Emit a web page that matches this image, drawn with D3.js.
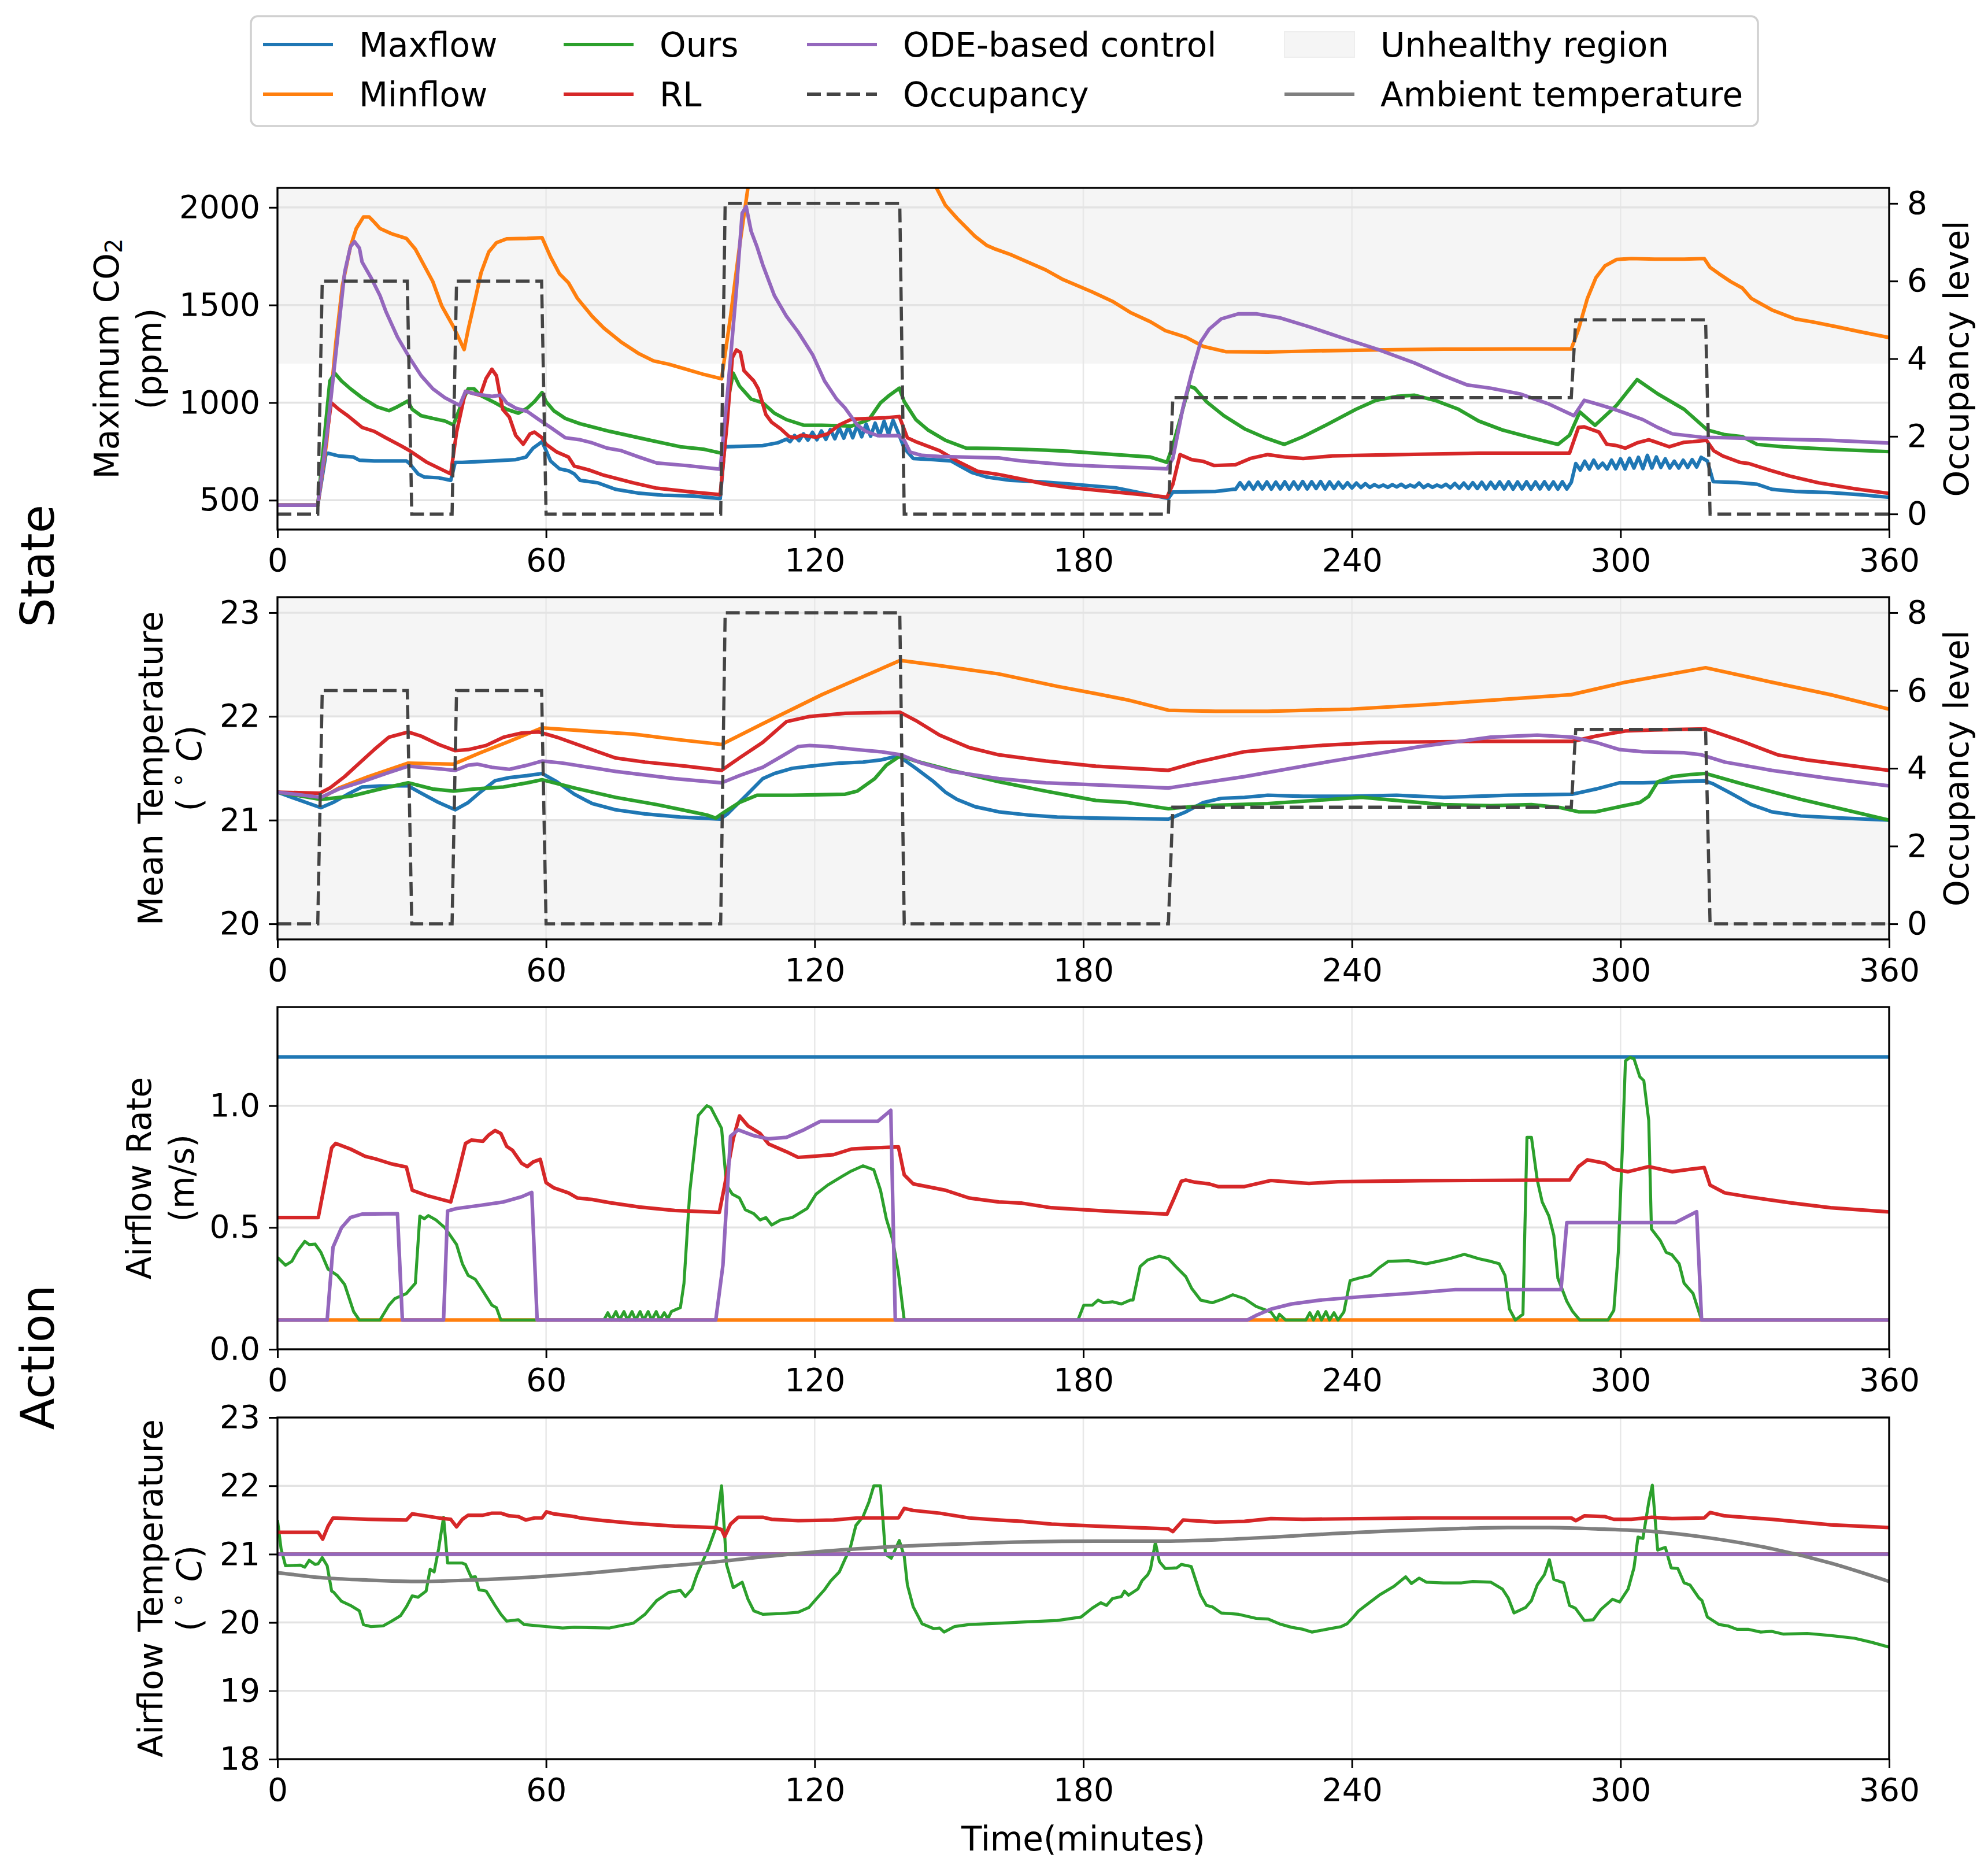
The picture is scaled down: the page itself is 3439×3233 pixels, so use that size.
<!DOCTYPE html>
<html>
<head>
<meta charset="utf-8">
<script src="https://cdn.jsdelivr.net/npm/d3@7"></script>
<style>
  body { margin: 0; background: #fff; }
  svg text { font-family: "DejaVu Sans", sans-serif; }
</style>
</head>
<body>
<script>
// ---- data (time in minutes, value) ----
const timeTicks = [0, 60, 120, 180, 240, 300, 360];

const occupancy = [[0,0],[9,0],[10,6],[29,6],[30,0],[39,0],[40,6],[59,6],[60,0],[99,0],[100,8],[139,8],
  [140,0],[199,0],[200,3],[289,3],[290,5],[319,5],[320,0],[360,0]];

// panel 1: maximum CO2 (ppm)
const co2Maxflow = [[0,475],[9,475],[10.8,734],[11.3,741],[13.7,727],[17,721],[18.3,705],[21.6,701],[28.8,701],[29.5,688],
  [31.4,635],[32.8,619],[36,615],[38.7,602],[39.7,694],[41.3,694],[47.9,701],[53.2,708],[55.5,721],[57.1,767],[59.1,800],
  [60,754],[61,701],[63,661],[65,651],[66.3,635],[67.6,602],[71.6,589],[75.5,556],[80.8,536],[86.1,526],[92.6,522],[98.9,509],
  [99.9,774],[103.2,776],[108.4,780],[111.7,794],[113.7,813],
  [114.5,800],[115.5,832],[116.5,805],[117.5,840],[118.5,808],[119.5,848],[120.5,810],[121.5,855],[122.5,812],[123.5,862],
  [124.5,815],[125.5,870],[126.5,818],[127.5,878],[128.5,820],[129.5,885],[130.5,825],[131.5,890],[132.5,828],[133.5,895],
  [134.5,832],[135.5,905],[136.5,838],[137.5,910],[138.5,855],
  [140,767],[142,714],[146.6,708],[150.5,701],[152.5,675],[155.1,642],[158.4,619],[163.7,602],[170.3,595],[176.8,584],
  [182.8,572],[187.2,564],[199,509],[200,542],[209.5,545],[213.5,556],
  [214,556],[215,590],[216,558],[217,592],[218,557],[219,593],[220,558],[221,594],[222,557],[223,593],[224,558],[225,595],
  [226,557],[227,594],[228,558],[229,596],[230,558],[231,595],[232,560],[233,596],[234,558],[235,594],[236,560],[237,592],
  [238,562],[239,590],[240,563],[241,588],[242,565],[243,585],[244,566],[245,580],[246,568],[247,578],[248,566],[249,580],
  [250,568],[251,582],[252,566],[253,578],[254,568],[255,588],[256,565],[257,580],[258,566],[259,578],[260,568],[261,582],
  [262,564],[263,586],[264,562],[265,588],[266,560],[267,590],[268,560],[269,592],[270,558],[271,592],[272,560],[273,594],
  [274,558],[275,595],[276,557],[277,594],[278,558],[279,595],[280,557],[281,594],[282,558],[283,595],[284,558],[285,594],
  [286,557],[287,595],[288,558],[289,592],
  [290,688],[291,655],[292,700],[293,660],[294,705],[295,665],[296,690],[297,660],[298,705],[299,662],[300,712],[301,660],
  [302,715],[303,665],[304,720],[305,662],[306,730],[307,665],[308,722],[309,668],[310,712],[311,665],[312,700],[313,665],
  [314,705],[315,668],[316,708],[317,670],[318,720],[319.4,701],
  [320.7,595],[326,591],[330.5,582],[333.8,556],[339,545],[346.9,539],[353.4,529],[360,515]];

const co2Minflow = [[0,475],[9,475],[11,800],[13,1300],[14.5,1600],[16.3,1799],[17.6,1892],[19.2,1951],[20.5,1951],[21.6,1925],
  [22.9,1892],[25.5,1865],[28.8,1841],[30.8,1786],[34.7,1620],[36.7,1495],[39.3,1389],[41.7,1272],[42.6,1375],[44.2,1534],
  [45.5,1667],[47.2,1772],[48.9,1819],[51.2,1839],[55.8,1841],[59.1,1845],[61,1746],[63,1660],[65,1614],[67,1534],[70.3,1442],
  [72.9,1382],[76.8,1310],[80.8,1250],[84,1214],[87.4,1197],[91.3,1171],[95.3,1144],[99.2,1122],[101.2,1442],[103.2,1799],
  [105.1,2103],[107,2250],[110,2370],[115,2450],[125,2500],[139.5,2520],[141,2450],[143,2320],[145,2200],[147.2,2100],
  [149.2,2011],[151.8,1944],[155.8,1852],[158.4,1806],[160.4,1786],[163.7,1759],[167.6,1720],[171.6,1680],[175.5,1630],
  [182,1567],[186.5,1519],[190.5,1462],[195,1414],[198.3,1369],[202.9,1335],[206.8,1288],[211.8,1261],[221.2,1259],
  [231.7,1265],[244.8,1270],[260.5,1274],[276.2,1275],[289,1275],[290.6,1375],[292.6,1534],[294.5,1640],[296.5,1700],
  [299.1,1733],[302.4,1738],[307.6,1735],[314.2,1735],[318.7,1738],[320,1693],[322,1660],[324.6,1620],[327.2,1587],
  [329.2,1534],[333.8,1475],[339,1429],[343,1413],[348.2,1389],[353.5,1363],[360,1333]];

const co2Ours = [[0,475],[9,475],[11.7,1111],[12.8,1151],[14.3,1111],[16.3,1071],[18.9,1025],[22.2,979],[24.9,959],[26.8,979],
  [29.1,1008],[30.1,966],[32.1,933],[34.7,919],[37.4,906],[39.3,886],[41.3,1005],[42.6,1071],[43.9,1071],[45.3,1038],
  [48.6,999],[51.2,966],[53.8,946],[55.8,972],[57.4,1005],[59.1,1052],[60,1005],[61.7,959],[64.3,919],[67.6,892],[74.2,853],
  [82.1,813],[90,774],[95.3,761],[99.2,741],[100.5,1000],[101.8,1151],[103.2,1085],[105.8,1018],[108.4,999],[111,946],
  [113.7,913],[117.6,884],[121.6,884],[128.2,880],[132.1,913],[134.7,999],[136.7,1038],[138.9,1074],[140,1005],[142.6,913],
  [145.3,860],[149.2,807],[153.8,767],[161.1,765],[171.6,757],[176.7,751],[187.2,734],[195,721],[198.7,694],[200,780],
  [201.6,913],[203.6,1085],[204.9,1074],[207.5,1005],[211.4,933],[216,866],[220.6,820],[224.9,786],[229.1,826],[234.3,886],
  [240.9,966],[245.4,1012],[250,1032],[254,1038],[258.5,1012],[263.8,966],[268.3,906],[273.6,860],[280.1,820],[286,786],
  [288.6,833],[290.9,952],[294.3,884],[299.1,986],[303.7,1118],[308.3,1045],[314.2,966],[319.4,860],[323.3,836],[327.2,826],
  [330.5,786],[336.4,774],[346.9,761],[360,749]];

const co2RL = [[0,475],[9,475],[12,1000],[13.7,966],[15.7,933],[18.9,873],[21.6,853],[24.2,820],[27.5,780],[29.5,754],
  [33.4,694],[38.7,635],[40,848],[42,1058],[45.3,1038],[46.6,1124],[47.9,1171],[48.9,1138],[50.3,966],[51.8,926],[53.2,833],
  [54.9,787],[56.4,840],[57.4,849],[59.1,820],[60,787],[62.4,747],[65,721],[66.3,675],[69.6,655],[72.9,628],[79.5,589],
  [84.7,562],[92.6,542],[98.9,529],[100.5,913],[101.6,1230],[102.5,1270],[103.4,1257],[104.2,1164],[106.4,1111],[107.4,1071],
  [109.1,939],[110.4,899],[112.4,866],[114.3,826],[115.7,820],[117,833],[120.3,823],[122.9,840],[125.5,886],[128.2,915],
  [132.1,919],[136,923],[138.9,929],[140.7,820],[142.6,800],[147.9,754],[151.8,701],[156.4,648],[161.1,632],[166.3,608],
  [171.6,582],[176.7,566],[187.2,542],[198.7,516],[200,582],[201.6,734],[204.2,708],[206.8,699],[209.2,678],[214,682],
  [217.3,714],[221.2,734],[225.2,721],[229.1,714],[235.6,727],[248.7,733],[268.3,741],[288.6,741],[290.6,873],[291.9,876],
  [295.2,849],[296.9,787],[299.1,780],[301.1,767],[303.7,794],[306.3,810],[307.6,800],[310.9,774],[314.2,797],[316.2,800],
  [319.2,807],[320.8,754],[322.8,727],[326.7,694],[328.7,688],[333.2,655],[337.8,624],[344.3,589],[352.2,559],[360,535]];

const co2ODE = [[0,475],[9,475],[11.1,847],[13,1243],[15,1667],[16.3,1799],[17.2,1825],[18.3,1792],[18.9,1720],[20.9,1640],
  [22.9,1548],[24.2,1468],[26.8,1336],[29.5,1230],[32.1,1138],[34.7,1071],[37.4,1025],[40.7,986],[42,1058],[44,1045],
  [47.9,1032],[49.9,1038],[51.2,999],[53.2,972],[55.8,955],[58.4,913],[61,873],[64.3,820],[67.6,810],[70.3,794],[73.6,767],
  [76.8,754],[80.8,721],[84.7,691],[91.3,678],[98.9,659],[100.5,1045],[102.5,1574],[103.8,1971],[104.7,2004],[105.8,1878],
  [107.1,1799],[108.4,1706],[111,1548],[113.7,1442],[116.3,1362],[119.6,1243],[122.2,1111],[124.9,1018],[126.8,972],
  [129.5,886],[131.4,853],[134.1,831],[138.7,831],[140,807],[141.3,747],[143.9,730],[147.9,724],[161.1,717],[166.3,701],
  [171.6,691],[176.7,681],[182.8,675],[198.7,661],[200,714],[202.3,979],[204.2,1151],[206.2,1310],[208.1,1376],[210.8,1429],
  [214.7,1455],[218.6,1455],[223.8,1435],[230.4,1389],[238.2,1329],[246.1,1270],[254,1203],[260.5,1138],[265.7,1091],
  [271,1074],[277.5,1045],[284.1,992],[289.6,933],[291.9,1012],[294.5,995],[297.8,972],[301.1,946],[305,913],[308.3,873],
  [311.6,840],[318.1,823],[333.8,814],[346.9,807],[360,793]];

// panel 2: mean temperature (deg C)
const tempMaxflow = [[0,21.27],[3.2,21.22],[6.4,21.17],[9.7,21.12],[12.4,21.17],[15.7,21.25],[18.9,21.32],[22.9,21.33],
  [29.2,21.33],[32.1,21.26],[36,21.17],[39.7,21.10],[42.6,21.17],[45.3,21.27],[48.6,21.38],[51.8,21.41],[55.8,21.43],
  [59.1,21.45],[62.4,21.37],[66.3,21.25],[70.3,21.16],[75.5,21.10],[82.1,21.06],[90,21.03],[98.9,21.01],[100.5,21.06],
  [104.5,21.23],[108.4,21.40],[111,21.45],[115,21.50],[118.9,21.52],[125.5,21.55],[130.8,21.56],[134.7,21.58],[138.7,21.62],
  [142.6,21.50],[146.6,21.37],[149.2,21.27],[151.8,21.20],[155.8,21.13],[161.1,21.08],[167.6,21.05],[174.2,21.03],
  [182.8,21.02],[199,21.01],[202.9,21.08],[206.8,21.17],[210.8,21.21],[216,21.22],[221.2,21.24],[229.1,21.23],[239.6,21.23],
  [250,21.24],[260.5,21.22],[274.9,21.24],[289.3,21.25],[294.5,21.30],[299.8,21.36],[305,21.36],[318.7,21.38],[320.7,21.35],
  [324.6,21.26],[329.2,21.15],[333.8,21.08],[340.3,21.04],[349.5,21.02],[360,21.00]];

const tempMinflow = [[0,21.27],[9.7,21.21],[13.7,21.31],[20.3,21.42],[29.2,21.55],[39.3,21.54],[45.3,21.65],[51.8,21.76],
  [59.1,21.89],[68.9,21.86],[79.5,21.83],[88.7,21.78],[99.2,21.73],[108.4,21.93],[121.6,22.21],[139.1,22.54],[147.9,22.49],
  [161.1,22.41],[174.2,22.29],[182.8,22.22],[189.8,22.16],[199,22.06],[209.5,22.05],[221.2,22.05],[239.6,22.07],
  [255.3,22.11],[272.3,22.16],[289,22.21],[301.1,22.33],[319,22.47],[333.8,22.33],[346.9,22.21],[360,22.07]];

const tempOurs = [[0,21.27],[9.7,21.20],[16.3,21.23],[22.9,21.30],[29.2,21.36],[34.7,21.30],[39.3,21.28],[43.9,21.30],
  [50.5,21.32],[55.8,21.36],[59.1,21.39],[66.3,21.31],[75.5,21.22],[84.7,21.15],[92.6,21.08],[95.9,21.05],[97.9,21.02],
  [99.9,21.08],[103.2,21.17],[107.1,21.24],[115,21.24],[126.8,21.25],[129.5,21.28],[133.4,21.40],[136,21.53],[139.1,21.62],
  [142.6,21.57],[150.5,21.48],[161.1,21.37],[171.6,21.28],[182.8,21.19],[189.8,21.17],[199,21.11],[206.8,21.14],
  [221.2,21.16],[231.7,21.19],[242.2,21.22],[250,21.19],[260.5,21.15],[271,21.14],[280.1,21.15],[286.7,21.12],[290.6,21.08],
  [294.5,21.08],[299.8,21.13],[304.3,21.17],[306.3,21.23],[308.3,21.37],[311.6,21.42],[315.6,21.44],[319,21.45],
  [327.2,21.35],[340.3,21.20],[360,21.00]];

const tempRL = [[0,21.27],[9.5,21.26],[11.7,21.31],[15,21.42],[18.3,21.55],[21.6,21.68],[24.9,21.80],[29.2,21.85],
  [32.1,21.81],[36,21.73],[39.7,21.67],[42.6,21.68],[46.6,21.72],[50.5,21.80],[54.5,21.84],[58.4,21.85],[62.4,21.80],
  [68.9,21.70],[75.5,21.60],[82.1,21.56],[91.3,21.52],[99.2,21.48],[103.2,21.60],[108.4,21.75],[113.7,21.95],[118.9,22.00],
  [126.8,22.03],[139.1,22.04],[142.6,21.96],[147.9,21.82],[154.5,21.70],[161.1,21.63],[171.6,21.57],[182.8,21.52],
  [199,21.48],[205.5,21.56],[216,21.66],[221.2,21.68],[233,21.72],[246.1,21.75],[268.3,21.76],[289.3,21.76],[294.5,21.81],
  [301.1,21.86],[307.6,21.87],[319,21.88],[327.2,21.76],[335.1,21.63],[341.7,21.58],[350.8,21.53],[360,21.48]];

const tempODE = [[0,21.27],[9.7,21.22],[13.7,21.30],[18.9,21.37],[24.2,21.45],[29.2,21.52],[34.7,21.50],[39.7,21.48],
  [42.6,21.53],[44.6,21.54],[47.9,21.51],[51.8,21.49],[55.8,21.53],[59.1,21.57],[63.7,21.55],[75.5,21.47],[88.7,21.40],
  [99.2,21.36],[103.2,21.43],[108.4,21.51],[112.4,21.61],[116.3,21.71],[118.9,21.72],[122.9,21.71],[129.5,21.68],
  [134.7,21.66],[139.2,21.63],[143.9,21.55],[150.5,21.47],[161.1,21.40],[171.6,21.36],[182.8,21.34],[199,21.31],
  [216,21.42],[235.6,21.57],[255.3,21.71],[271,21.80],[281.4,21.82],[289.3,21.80],[294.5,21.75],[299.8,21.68],[305,21.66],
  [314.2,21.65],[318.1,21.63],[323.3,21.56],[333.8,21.48],[346.9,21.40],[360,21.33]];

// panel 3: airflow rate (m/s)
const rateMaxflow = [[0,1.2],[360,1.2]];
const rateMinflow = [[0,0.12],[360,0.12]];

const rateOurs = [[0,0.377],[1.8,0.345],[3.2,0.361],[4.5,0.404],[6.1,0.443],[7.1,0.430],[8.4,0.432],[9.7,0.398],
  [11.3,0.329],[13.4,0.303],[15,0.266],[17,0.155],[18.3,0.12],[22.9,0.12],[24.9,0.181],[26.2,0.208],[28.8,0.229],
  [30.8,0.271],[31.8,0.547],[32.8,0.536],[33.7,0.549],[35.4,0.531],[37.4,0.499],[40,0.430],[41.3,0.351],[42.6,0.303],
  [44.2,0.287],[45.9,0.239],[47.9,0.181],[48.9,0.171],[49.9,0.12],[72.9,0.12],[73.8,0.15],[74.6,0.12],[75.6,0.155],
  [76.4,0.12],[77.4,0.155],[78.2,0.12],[79.2,0.155],[80,0.12],[81,0.155],[81.8,0.12],[82.8,0.155],[83.6,0.12],[84.6,0.155],
  [85.4,0.12],[86.4,0.15],[87.2,0.125],[88,0.155],[90,0.171],[90.8,0.271],[92.1,0.647],[94,0.960],[95.9,1.0],[96.8,0.992],
  [99.2,0.907],[100.3,0.674],[101.6,0.637],[103.2,0.621],[104.5,0.573],[106.4,0.557],[107.8,0.531],[109.1,0.541],
  [110.4,0.510],[112.4,0.531],[115,0.541],[118.3,0.578],[120.3,0.637],[122.9,0.674],[126.2,0.711],[128.2,0.732],
  [130.8,0.753],[133.2,0.737],[134.7,0.653],[136,0.536],[137.4,0.451],[138.7,0.314],[140,0.12],[178.8,0.12],[180.1,0.181],
  [182,0.181],[183.3,0.202],[184.6,0.191],[186.5,0.195],[188.5,0.186],[190.5,0.202],[191.1,0.202],[192.7,0.340],
  [194.4,0.367],[197,0.382],[199,0.372],[200.9,0.335],[202.9,0.298],[204.2,0.250],[206.2,0.202],[208.8,0.191],[211.4,0.208],
  [213.4,0.224],[216,0.208],[218.6,0.176],[221.9,0.153],[223.2,0.12],[223.8,0.144],[225.2,0.12],[229.7,0.12],[230.6,0.15],
  [231.4,0.12],[232.4,0.155],[233.2,0.12],[234.2,0.155],[235,0.12],[236,0.15],[236.9,0.12],[238.2,0.153],[239.6,0.282],
  [241.5,0.292],[244.1,0.303],[246.1,0.335],[248.1,0.361],[252.6,0.364],[256.6,0.351],[259.2,0.361],[261.8,0.372],
  [265.1,0.390],[268.3,0.372],[271,0.361],[272.9,0.351],[274.2,0.303],[275.2,0.165],[276.5,0.12],[278.2,0.144],[279.1,0.870],
  [280.1,0.870],[281.4,0.695],[282.5,0.605],[284,0.547],[285.1,0.467],[286,0.292],[288,0.197],[289.3,0.155],[290.9,0.12],
  [297.2,0.12],[298.5,0.160],[299.5,0.398],[300.4,0.822],[301.1,1.184],[302.1,1.198],[303,1.193],[304.3,1.119],[305.2,1.103],
  [306.3,0.939],[306.9,0.494],[308.9,0.446],[310.2,0.398],[311.5,0.388],[313.1,0.351],[314.2,0.271],[316.2,0.229],
  [318.1,0.12],[360,0.12]];

const rateRL = [[0,0.541],[9.1,0.541],[12.1,0.827],[13,0.845],[16.3,0.822],[19.6,0.792],[22.2,0.780],[25.5,0.761],
  [28.8,0.748],[30.1,0.653],[33.4,0.631],[38.7,0.605],[40,0.695],[42,0.845],[43.3,0.859],[45.9,0.854],[47.2,0.880],
  [48.6,0.898],[49.9,0.886],[51.2,0.833],[52.5,0.817],[54.5,0.764],[55.8,0.750],[57.1,0.769],[58.7,0.780],[60,0.684],
  [61.7,0.663],[65,0.642],[67,0.621],[70.3,0.615],[74.2,0.602],[80.8,0.584],[88.7,0.570],[98.7,0.562],[99.9,0.674],
  [101.8,0.864],[103.2,0.958],[105.1,0.917],[107.8,0.886],[109.7,0.843],[113.7,0.811],[116.3,0.788],[120.3,0.793],
  [124.2,0.799],[128.2,0.822],[132.1,0.826],[138.7,0.831],[140,0.716],[142,0.679],[149.2,0.653],[154.5,0.621],[161.1,0.605],
  [166.3,0.600],[172.9,0.581],[182.8,0.570],[187.2,0.565],[198.7,0.555],[200.3,0.621],[201.9,0.690],[202.9,0.695],
  [204.9,0.686],[208.1,0.679],[210.1,0.668],[216,0.668],[221.9,0.693],[226.5,0.686],[230.4,0.681],[236.9,0.688],
  [255.3,0.692],[288.6,0.695],[290.6,0.750],[292.6,0.778],[296.5,0.764],[298.5,0.739],[301.7,0.729],[306.3,0.750],
  [311.5,0.729],[315.5,0.739],[318.7,0.746],[320,0.674],[323.3,0.642],[328.6,0.626],[337.7,0.602],[346.9,0.581],[360,0.564]];

const rateODE = [[0,0.12],[11.1,0.12],[12.4,0.419],[14.3,0.499],[16.3,0.541],[18.9,0.555],[26.8,0.557],[27.9,0.12],
  [37.1,0.12],[38,0.568],[40,0.578],[45.3,0.591],[50.5,0.605],[54.5,0.626],[56.8,0.644],[58,0.12],[97.9,0.12],[99.5,0.345],
  [101.2,0.875],[102.9,0.901],[106.4,0.877],[109.7,0.864],[113.7,0.870],[117.6,0.901],[121.3,0.936],[134.1,0.936],
  [137,0.981],[138,0.12],[216.6,0.12],[218.6,0.139],[221.9,0.165],[226.5,0.186],[233,0.202],[242.2,0.216],[252.6,0.229],
  [263.1,0.245],[286.7,0.245],[288,0.520],[312.2,0.520],[317,0.565],[318.1,0.12],[360,0.12]];

// panel 4: airflow temperature (deg C)
const supplyMaxflow = [[0,21],[360,21]];
const supplyMinflow = [[0,21],[360,21]];
const supplyODE = [[0,21],[360,21]];

const supplyOurs = [[0,21.50],[0.8,21.08],[1.8,20.83],[5.1,20.84],[6.1,20.81],[7.1,20.91],[8.4,20.85],[9.1,20.86],[10,20.95],
  [11.1,20.83],[12.1,20.46],[12.6,20.44],[14.3,20.31],[16.3,20.25],[18.3,20.17],[19.2,19.97],[20.9,19.94],[23.6,19.95],
  [25.5,20.02],[27.5,20.10],[28.8,20.23],[30.1,20.39],[31.4,20.37],[33.2,20.46],[34.1,20.78],[35,20.74],[36,21.08],
  [37.1,21.54],[38,20.87],[41.3,20.87],[42,20.85],[43.3,20.66],[44.2,20.67],[45,20.48],[46.6,20.46],[48.6,20.25],[49.9,20.12],
  [51.2,20.02],[53.8,20.04],[55.1,19.97],[58.4,19.95],[63.7,19.92],[66.3,19.93],[74.2,19.92],[79.5,19.99],[82.1,20.12],
  [84.7,20.32],[87.4,20.44],[90,20.47],[91.1,20.38],[92.6,20.49],[93.7,20.70],[96.3,21.09],[97.9,21.38],[99.2,22.0],
  [100.3,20.85],[101.8,20.51],[103.8,20.59],[105.1,20.34],[106.4,20.17],[108.4,20.12],[112.4,20.13],[116.3,20.15],
  [118.7,20.22],[120.3,20.34],[122.2,20.48],[123.6,20.61],[125.5,20.74],[126.8,20.93],[127.9,21.08],[129.2,21.42],
  [130.8,21.55],[132.1,21.76],[133.2,22.0],[134.7,22.0],[135.8,21.0],[137.1,20.94],[138.9,21.20],[140,20.97],[140.7,20.55],
  [142,20.23],[144,19.98],[146.6,19.91],[147.9,19.92],[148.9,19.86],[151.2,19.94],[154.5,19.97],[161.1,19.99],[167.6,20.01],
  [174.2,20.03],[179.5,20.08],[182,20.21],[183.9,20.29],[185.2,20.25],[186.5,20.35],[188.5,20.38],[189.2,20.46],[190.1,20.40],
  [192.2,20.49],[193.1,20.61],[194.4,20.70],[195,20.78],[196.1,21.17],[197,20.89],[198.3,20.79],[200.9,20.80],[201.9,20.85],
  [204.1,20.82],[206.2,20.40],[207.5,20.25],[208.8,20.23],[210.8,20.14],[214.7,20.12],[218.6,20.06],[221.3,20.05],
  [223.8,19.98],[226.5,19.93],[229.1,19.90],[231.1,19.86],[234.3,19.90],[237.6,19.94],[238.9,19.98],[240.2,20.07],
  [241.5,20.17],[243.5,20.27],[246.1,20.40],[249.4,20.53],[252,20.67],[253.3,20.57],[255,20.65],[256.6,20.59],[260.5,20.58],
  [264.5,20.58],[267,20.60],[271,20.59],[273.6,20.49],[274.9,20.36],[276.2,20.14],[278.8,20.22],[280.1,20.32],[281.4,20.55],
  [283,20.70],[284.1,20.92],[285.1,20.63],[287.3,20.58],[288.6,20.25],[289.9,20.21],[291.9,20.03],[293.9,20.04],[295.6,20.19],
  [298.2,20.34],[299.8,20.30],[301.7,20.49],[303,20.80],[303.9,21.25],[305,21.23],[306.3,21.76],[307.1,22.01],[308.3,21.06],
  [310,21.10],[311.3,20.80],[312.8,20.79],[314.2,20.58],[315.5,20.55],[317.5,20.36],[318.2,20.32],[319.4,20.08],[322,19.97],
  [324,19.95],[326,19.90],[328.6,19.90],[331.3,19.86],[333.8,19.87],[336.4,19.83],[341.7,19.84],[346.9,19.81],[352.2,19.77],
  [356.1,19.71],[360,19.64]];

const supplyRL = [[0,21.32],[9.1,21.32],[10.1,21.22],[11.3,21.41],[12.4,21.53],[20.3,21.51],[28.8,21.50],[30.1,21.59],
  [32.1,21.57],[36,21.53],[38.7,21.51],[40,21.40],[41.3,21.51],[42.6,21.57],[45.9,21.57],[47.9,21.60],[49.9,21.60],
  [51.8,21.56],[53.8,21.55],[55.5,21.50],[57.4,21.53],[59.1,21.53],[60.1,21.62],[61.7,21.59],[66.3,21.55],[67.6,21.53],
  [71.6,21.50],[79.5,21.45],[88.7,21.41],[97.9,21.39],[99.2,21.36],[99.9,21.26],[101.2,21.44],[102.9,21.54],[108.4,21.54],
  [110.4,21.51],[116.3,21.49],[124.2,21.50],[129.5,21.53],[138.7,21.53],[140,21.67],[142,21.64],[147.9,21.60],[154.5,21.53],
  [161.1,21.50],[166.3,21.48],[172.9,21.44],[182.8,21.41],[199,21.37],[200,21.33],[202.3,21.50],[209.5,21.47],[216,21.48],
  [221.9,21.52],[229.1,21.51],[255.3,21.53],[289,21.53],[290,21.49],[291.9,21.56],[296.5,21.55],[298.5,21.51],[302.4,21.51],
  [307,21.54],[311.5,21.52],[318.7,21.53],[320,21.61],[323.3,21.56],[333.8,21.51],[346.9,21.43],[360,21.39]];

const ambientTemp = [[0,20.73],[11.1,20.65],[20.3,20.62],[32.1,20.60],[42.6,20.62],[55.8,20.66],[68.9,20.72],[82.1,20.80],
  [95.3,20.87],[108.4,20.96],[121.6,21.04],[134.7,21.10],[147.9,21.14],[161.1,21.17],[182.8,21.19],[196.4,21.19],
  [209.5,21.21],[222.5,21.25],[235.6,21.30],[248.7,21.34],[261.8,21.37],[274.9,21.39],[284.1,21.39],[294.5,21.37],
  [307.6,21.33],[320.7,21.23],[333.8,21.08],[346.9,20.87],[360,20.60]];

// ---- styling ----
const colors = { maxflow: "#1f77b4", minflow: "#ff7f0e", ours: "#2ca02c", rl: "#d62728", ode: "#9467bd",
  occ: "#444444", ambient: "#7f7f7f", shade: "#f5f5f5", grid: "#e3e3e3" };
const tickSize = 55;    // tick labels
const labelSize = 58;   // axis labels and legend
const W = 3439, H = 3233;
const plotLeft = 480, plotRight = 3268;

const svg = d3.select("body").append("svg")
  .attr("width", W).attr("height", H)
  .attr("viewBox", `0 0 ${W} ${H}`);

const x = d3.scaleLinear().domain([0, 360]).range([plotLeft, plotRight]);

function drawPanel(cfg) {
  const y = d3.scaleLinear().domain(cfg.yDomain).range([cfg.bottom, cfg.top]);
  const g = svg.append("g");
  const clipId = "clip" + cfg.id;
  svg.append("clipPath").attr("id", clipId)
    .append("rect")
    .attr("x", plotLeft).attr("y", cfg.top)
    .attr("width", plotRight - plotLeft).attr("height", cfg.bottom - cfg.top);

  // unhealthy shading
  (cfg.shade || []).forEach(s => {
    const y0 = y(Math.min(s[1], cfg.yDomain[1])), y1 = y(Math.max(s[0], cfg.yDomain[0]));
    g.append("rect").attr("x", plotLeft).attr("y", y0)
      .attr("width", plotRight - plotLeft).attr("height", y1 - y0)
      .attr("fill", colors.shade);
  });

  // grid
  g.append("g").selectAll("line").data(timeTicks).join("line")
    .attr("x1", d => x(d)).attr("x2", d => x(d))
    .attr("y1", cfg.top).attr("y2", cfg.bottom)
    .attr("stroke", "#e8e8e8").attr("stroke-width", 2.5);
  g.append("g").selectAll("line").data(cfg.yTicks).join("line")
    .attr("x1", plotLeft).attr("x2", plotRight)
    .attr("y1", d => y(d)).attr("y2", d => y(d))
    .attr("stroke", colors.grid).attr("stroke-width", 3.5);

  const line = d3.line().x(d => x(d[0])).y(d => y(d[1]));
  const lines = g.append("g").attr("clip-path", `url(#${clipId})`);
  cfg.series.forEach(s => {
    lines.append("path")
      .attr("d", (s.smooth ? line.curve(d3.curveMonotoneX) : line.curve(d3.curveLinear))(s.data))
      .attr("fill", "none")
      .attr("stroke", s.color)
      .attr("stroke-width", s.width || 6.2)
      .attr("stroke-linejoin", "round");
  });

  // occupancy on a twin axis
  let occ = null;
  if (cfg.occupancy) {
    occ = d3.scaleLinear().domain([-0.4, 8.4]).range([cfg.bottom, cfg.top]);
    lines.append("path")
      .attr("d", d3.line().x(d => x(d[0])).y(d => occ(d[1]))(occupancy))
      .attr("fill", "none")
      .attr("stroke", colors.occ)
      .attr("stroke-width", 5.5)
      .attr("stroke-dasharray", "24,10");
  }

  // frame
  g.append("rect").attr("x", plotLeft).attr("y", cfg.top)
    .attr("width", plotRight - plotLeft).attr("height", cfg.bottom - cfg.top)
    .attr("fill", "none").attr("stroke", "#000").attr("stroke-width", 3.3);

  // axes
  const xAxis = g.append("g").attr("transform", `translate(0,${cfg.bottom})`)
    .call(d3.axisBottom(x).tickValues(timeTicks).tickSize(15).tickPadding(18).tickFormat(d3.format("d")));
  const yAxis = g.append("g").attr("transform", `translate(${plotLeft},0)`)
    .call(d3.axisLeft(y).tickValues(cfg.yTicks).tickSize(15).tickPadding(15).tickFormat(d3.format(cfg.yFormat)));
  const axes = [xAxis, yAxis];
  if (occ) {
    axes.push(g.append("g").attr("transform", `translate(${plotRight},0)`)
      .call(d3.axisRight(occ).tickValues([0, 2, 4, 6, 8]).tickSize(15).tickPadding(16).tickFormat(d3.format("d"))));
  }
  axes.forEach(a => {
    a.select(".domain").remove();
    a.selectAll(".tick line").attr("stroke", "#000").attr("stroke-width", 3);
    a.selectAll(".tick text").attr("font-size", tickSize).attr("fill", "#000")
      .style("font-family", "'DejaVu Sans', sans-serif");
  });

  // y label (two lines)
  const cy = (cfg.top + cfg.bottom) / 2;
  cfg.label(g, cy);

  if (occ) {
    rotText(g, 3385, cy).text("Occupancy level");
  }
}

function rotText(g, cx, cy, size) {
  return g.append("text")
    .attr("transform", `translate(${cx},${cy}) rotate(-90)`)
    .attr("text-anchor", "middle").attr("dominant-baseline", "central")
    .attr("font-size", size || labelSize);
}

function degreeLabel(g, cx, cy) {
  const t = rotText(g, cx, cy);
  t.append("tspan").text("( ");
  t.append("tspan").attr("font-size", 42).attr("dy", -21).text("\u2218");
  t.append("tspan").attr("dy", 21).text(" ");
  t.append("tspan").attr("font-style", "italic").text("C");
  t.append("tspan").text(")");
}

drawPanel({
  id: 1, top: 325, bottom: 916, yDomain: [350, 2100], yTicks: [500, 1000, 1500, 2000], yFormat: "d",
  shade: [[1200, 2100]], occupancy: true,
  series: [
    { data: co2Maxflow, color: colors.maxflow },
    { data: co2Minflow, color: colors.minflow },
    { data: co2Ours, color: colors.ours },
    { data: co2RL, color: colors.rl },
    { data: co2ODE, color: colors.ode }
  ],
  label: (g, cy) => {
    const t = rotText(g, 185, cy);
    t.append("tspan").text("Maximum CO");
    t.append("tspan").attr("font-size", 40).attr("dy", 12).text("2");
    rotText(g, 259, cy).text("(ppm)");
  }
});

drawPanel({
  id: 2, top: 1033, bottom: 1625, yDomain: [19.85, 23.15], yTicks: [20, 21, 22, 23], yFormat: "d",
  shade: [[22, 23.15], [19.85, 21]], occupancy: true,
  series: [
    { data: tempMaxflow, color: colors.maxflow },
    { data: tempMinflow, color: colors.minflow },
    { data: tempOurs, color: colors.ours },
    { data: tempRL, color: colors.rl },
    { data: tempODE, color: colors.ode }
  ],
  label: (g, cy) => {
    rotText(g, 261, cy).text("Mean Temperature");
    degreeLabel(g, 328, cy);
  }
});

drawPanel({
  id: 3, top: 1742, bottom: 2334, yDomain: [0, 1.405], yTicks: [0, 0.5, 1.0], yFormat: ".1f",
  series: [
    { data: rateMaxflow, color: colors.maxflow },
    { data: rateMinflow, color: colors.minflow },
    { data: rateOurs, color: colors.ours, width: 5.2 },
    { data: rateRL, color: colors.rl },
    { data: rateODE, color: colors.ode }
  ],
  label: (g, cy) => {
    rotText(g, 241, cy).text("Airflow Rate");
    rotText(g, 315, cy).text("(m/s)");
  }
});

drawPanel({
  id: 4, top: 2452, bottom: 3043, yDomain: [18, 23], yTicks: [18, 19, 20, 21, 22, 23], yFormat: "d",
  series: [
    { data: supplyMaxflow, color: colors.maxflow },
    { data: supplyMinflow, color: colors.minflow },
    { data: supplyOurs, color: colors.ours, width: 5.2 },
    { data: supplyRL, color: colors.rl },
    { data: supplyODE, color: colors.ode },
    { data: ambientTemp, color: colors.ambient, smooth: true }
  ],
  label: (g, cy) => {
    rotText(g, 261, cy).text("Airflow Temperature");
    degreeLabel(g, 328, cy);
  }
});

// group titles and x label
rotText(svg, 65, 979, 80).text("State");
rotText(svg, 65, 2348, 80).text("Action");
svg.append("text").attr("x", (plotLeft + plotRight) / 2).attr("y", 3201)
  .attr("text-anchor", "middle").attr("font-size", labelSize).text("Time(minutes)");

// legend
const legendItems = [
  { label: "Maxflow", color: colors.maxflow, col: 0, row: 0 },
  { label: "Minflow", color: colors.minflow, col: 0, row: 1 },
  { label: "Ours", color: colors.ours, col: 1, row: 0 },
  { label: "RL", color: colors.rl, col: 1, row: 1 },
  { label: "ODE-based control", color: colors.ode, col: 2, row: 0 },
  { label: "Occupancy", color: colors.occ, col: 2, row: 1, dash: true },
  { label: "Unhealthy region", color: colors.shade, col: 3, row: 0, patch: true },
  { label: "Ambient temperature", color: colors.ambient, col: 3, row: 1 }
];
const legendColX = [455, 975, 1396, 2222];
const legendRowY = [77, 163];
const legend = svg.append("g");
legend.append("rect").attr("x", 434).attr("y", 28).attr("width", 2607).attr("height", 190)
  .attr("rx", 12).attr("fill", "#fff").attr("stroke", "#d0d0d0").attr("stroke-width", 3.5);
legendItems.forEach(it => {
  const x0 = legendColX[it.col], yy = legendRowY[it.row];
  if (it.patch) {
    legend.append("rect").attr("x", x0).attr("y", yy - 22).attr("width", 121).attr("height", 44)
      .attr("fill", it.color).attr("stroke", "#eeeeee").attr("stroke-width", 2);
  } else {
    legend.append("line").attr("x1", x0).attr("x2", x0 + 121).attr("y1", yy).attr("y2", yy)
      .attr("stroke", it.color).attr("stroke-width", 6)
      .attr("stroke-dasharray", it.dash ? "24,10" : null);
  }
  legend.append("text").attr("x", x0 + 166).attr("y", yy + 21)
    .attr("font-size", labelSize).text(it.label);
});
</script>
</body>
</html>
